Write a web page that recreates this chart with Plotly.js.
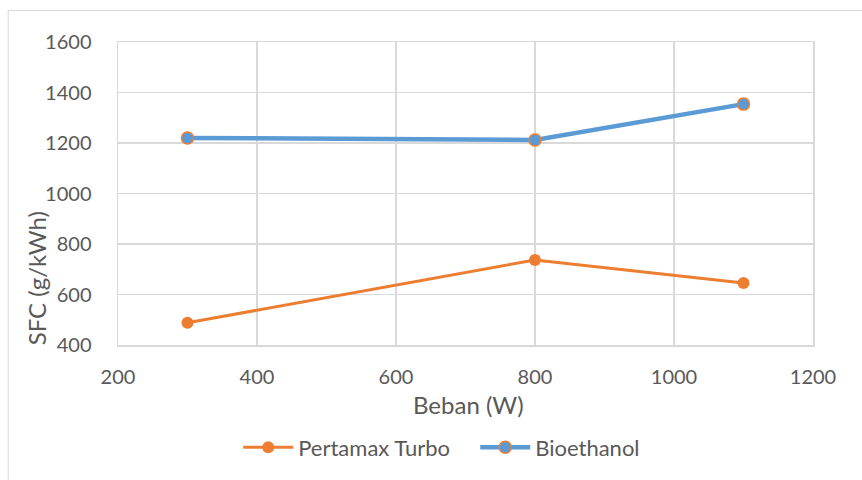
<!DOCTYPE html>
<html><head><meta charset="utf-8">
<script src="https://cdn.plot.ly/plotly-3.0.1.min.js"></script>
<style>html,body{margin:0;padding:0;background:#fff;}#c{width:862px;height:480px;}</style>
</head><body><div id="c"></div>
<script>
const beban = [300, 800, 1100];
const pertamaxTurbo = [488, 737, 646];
const bioethanol = [1220, 1212, 1354];
const seriesNames = ["Pertamax Turbo", "Bioethanol"];
const xTicks = [200, 400, 600, 800, 1000, 1200];
const yTicks = [400, 600, 800, 1000, 1200, 1400, 1600];
const xTitle = 'Beban (W)';
const yTitle = 'SFC (g/kWh)';

const font = "Lato, 'Open Sans', sans-serif";
const grey = '#595959';
const traces = [
  {x: beban, y: pertamaxTurbo, name: seriesNames[0], type: 'scatter', mode: 'lines+markers',
   line: {color: '#ED7D31', width: 3}, marker: {color: '#ED7D31', size: 12}},
  {x: beban, y: bioethanol, name: seriesNames[1], type: 'scatter', mode: 'lines+markers',
   line: {color: '#5B9BD5', width: 4.5}, marker: {color: '#5B9BD5', size: 12, line: {color: '#ED7D31', width: 1.5}}}
];
const layout = {
  width: 862, height: 480,
  margin: {l: 118, r: 49, t: 42, b: 133},
  paper_bgcolor: '#fff', plot_bgcolor: '#fff',
  font: {family: font, color: grey, size: 20},
  showlegend: true,
  legend: {orientation: 'h', x: 0.173, xanchor: 'left', y: -0.338, yanchor: 'middle',
    itemwidth: 50, entrywidth: 172, font: {size: 22, color: grey}},
  xaxis: {range: [200, 1200], tickvals: xTicks, showgrid: true, gridcolor: '#D9D9D9', gridwidth: 1.5,
    zeroline: false, showline: true, linecolor: '#D9D9D9', linewidth: 1.5, mirror: true,
    ticks: '', ticklabelstandoff: 13, tickfont: {size: 20, color: grey}},
  yaxis: {range: [400, 1600], tickvals: yTicks, showgrid: true, gridcolor: '#D9D9D9', gridwidth: 1.5,
    zeroline: false, showline: true, linecolor: '#D9D9D9', linewidth: 1.5, mirror: true,
    ticks: '', ticklabelstandoff: 21, tickfont: {size: 20, color: grey}},
  annotations: [
    {text: xTitle, xref: 'paper', yref: 'paper', x: 0.504, y: -0.197, xanchor: 'center', yanchor: 'middle',
     showarrow: false, font: {size: 24, color: grey}},
    {text: yTitle, xref: 'paper', yref: 'paper', x: -0.118, y: 0.22, xanchor: 'center', yanchor: 'middle',
     textangle: -90, showarrow: false, font: {size: 24, color: grey}}
  ],
  shapes: [{type: 'rect', xref: 'paper', yref: 'paper', x0: -0.158, x1: 1.2, y0: -0.6, y1: 1.104,
    line: {color: '#D9D9D9', width: 1}, fillcolor: 'rgba(0,0,0,0)', layer: 'below'}]
};
Plotly.newPlot('c', traces, layout, {displayModeBar: false, staticPlot: true});
</script></body></html>
